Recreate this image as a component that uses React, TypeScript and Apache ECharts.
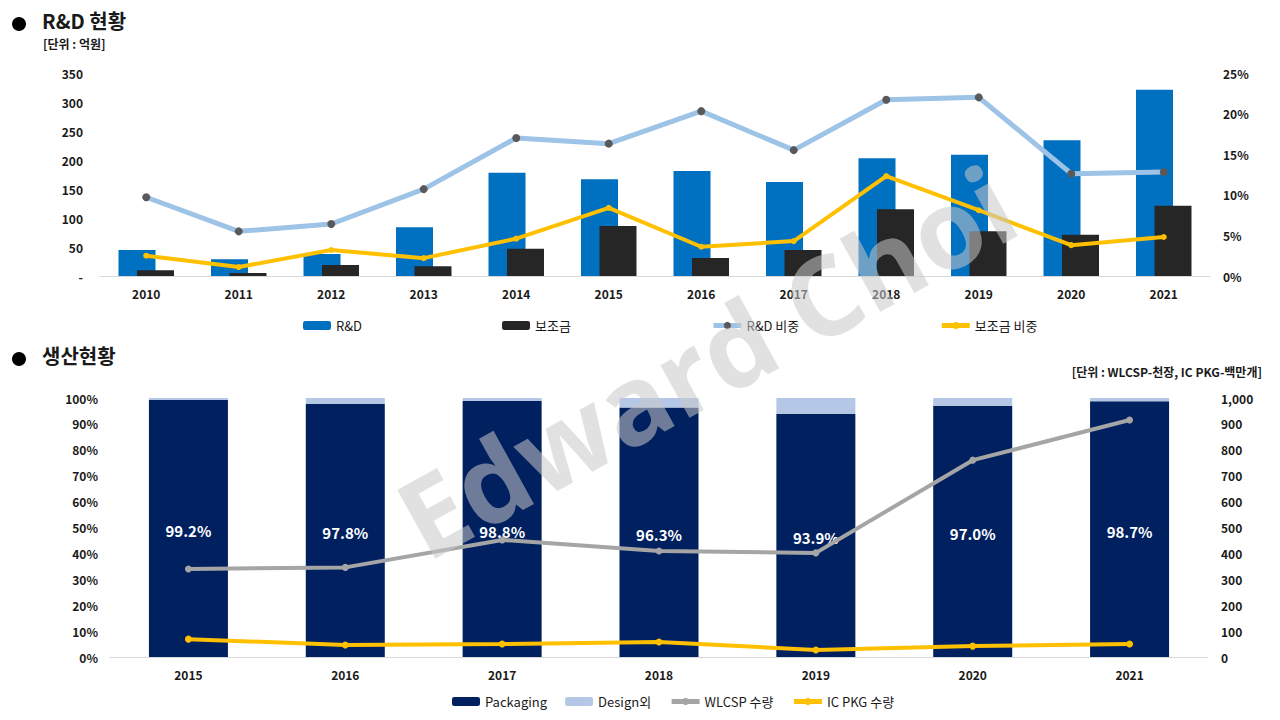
import React, { useEffect, useRef } from "react";
import * as echarts from "echarts";

const years1 = ["2010", "2011", "2012", "2013", "2014", "2015", "2016", "2017", "2018", "2019", "2020", "2021"];
const rnd = [45, 29, 38, 84, 178, 167, 181, 162, 203, 209, 234, 321];
const subsidy = [10, 5, 19, 17, 47, 86, 31, 45, 115, 77, 71, 121];
const rndRatio = [9.7, 5.5, 6.4, 10.7, 17.0, 16.3, 20.3, 15.5, 21.7, 22.0, 12.6, 12.8];
const subsidyRatio = [2.5, 1.1, 3.2, 2.2, 4.6, 8.4, 3.6, 4.3, 12.3, 8.1, 3.8, 4.8];

const years2 = ["2015", "2016", "2017", "2018", "2019", "2020", "2021"];
const packaging = [99.2, 97.8, 98.8, 96.3, 93.9, 97.0, 98.7];
const designEtc = [0.8, 2.2, 1.2, 3.7, 6.1, 3.0, 1.3];
const wlcsp = [340, 346, 452, 409, 402, 760, 915];
const icPkg = [69, 46, 50, 58, 27, 42, 50];

const FONT = "'Noto Sans CJK KR', 'Noto Sans', sans-serif";

export default function App() {
  const ref = useRef<HTMLDivElement>(null);
  useEffect(() => {
    if (!ref.current) return;
    const chart = echarts.init(ref.current, null, { renderer: "svg" });
    const axisLabel = { color: "#1a1a1a", fontSize: 12, fontWeight: "bold" as const, fontFamily: FONT };
    const legendText = { fontSize: 13, color: "#1a1a1a", fontFamily: FONT, fontWeight: "normal" as const };
    const option: any = {
      animation: false,
      backgroundColor: "#ffffff",
      textStyle: { fontFamily: FONT },
      grid: [
        { left: 100, right: 70, top: 73, height: 203 },
        { left: 110, right: 72, top: 398, height: 259 },
      ],
      legend: [
        {
          left: 298,
          top: 314,
          itemGap: 140,
          itemWidth: 28,
          itemHeight: 9,
          lineStyle: { width: 5 },
          textStyle: legendText,
          data: ["R&D", "보조금", "R&D 비중", "보조금 비중"],
        },
        {
          left: 447,
          top: 690,
          itemGap: 18,
          itemWidth: 28,
          itemHeight: 9,
          lineStyle: { width: 5 },
          textStyle: legendText,
          data: ["Packaging", "Design외", "WLCSP 수량", "IC PKG 수량"],
        },
      ],
      xAxis: [
        {
          type: "category",
          gridIndex: 0,
          data: years1,
          axisLine: { lineStyle: { color: "#D9D9D9", width: 1 } },
          axisTick: { show: false },
          axisLabel: { ...axisLabel, margin: 11 },
        },
        {
          type: "category",
          gridIndex: 1,
          data: years2,
          axisLine: { lineStyle: { color: "#D9D9D9", width: 1 } },
          axisTick: { show: false },
          axisLabel: { ...axisLabel, margin: 11 },
        },
      ],
      yAxis: [
        {
          type: "value",
          gridIndex: 0,
          min: 0,
          max: 350,
          interval: 50,
          splitLine: { show: false },
          axisLine: { show: false },
          axisLabel: { ...axisLabel, margin: 17, formatter: (v: number) => (v === 0 ? "-" : String(v)) },
        },
        {
          type: "value",
          gridIndex: 0,
          position: "right",
          min: 0,
          max: 25,
          interval: 5,
          splitLine: { show: false },
          axisLine: { show: false },
          axisLabel: { ...axisLabel, margin: 13, formatter: "{value}%" },
        },
        {
          type: "value",
          gridIndex: 1,
          min: 0,
          max: 100,
          interval: 10,
          splitLine: { show: false },
          axisLine: { show: false },
          axisLabel: { ...axisLabel, margin: 12, formatter: "{value}%" },
        },
        {
          type: "value",
          gridIndex: 1,
          position: "right",
          min: 0,
          max: 1000,
          interval: 100,
          splitLine: { show: false },
          axisLine: { show: false },
          axisLabel: {
            ...axisLabel,
            margin: 13,
            formatter: (v: number) => v.toLocaleString("en-US"),
          },
        },
      ],
      series: [
        {
          name: "R&D",
          type: "bar",
          xAxisIndex: 0,
          yAxisIndex: 0,
          data: rnd,
          barWidth: 37,
          barGap: "-50%",
          itemStyle: { color: "#0070C0" },
        },
        {
          name: "보조금",
          type: "bar",
          xAxisIndex: 0,
          yAxisIndex: 0,
          data: subsidy,
          barWidth: 37,
          barGap: "-50%",
          itemStyle: { color: "#262626" },
        },
        {
          name: "R&D 비중",
          type: "line",
          xAxisIndex: 0,
          yAxisIndex: 1,
          data: rndRatio,
          symbol: "circle",
          symbolSize: 8,
          lineStyle: { color: "#9DC3E6", width: 5 },
          itemStyle: { color: "#595959" },
          z: 3,
        },
        {
          name: "보조금 비중",
          type: "line",
          xAxisIndex: 0,
          yAxisIndex: 1,
          data: subsidyRatio,
          symbol: "circle",
          symbolSize: 6,
          lineStyle: { color: "#FFC000", width: 4 },
          itemStyle: { color: "#FFC000" },
          z: 3,
        },
        {
          name: "Packaging",
          type: "bar",
          xAxisIndex: 1,
          yAxisIndex: 2,
          stack: "share",
          data: packaging,
          barWidth: 79,
          itemStyle: { color: "#002060" },
          label: {
            show: true,
            position: "inside",
            offset: [0, 2],
            color: "#ffffff",
            fontSize: 15,
            fontWeight: "bold",
            fontFamily: FONT,
            formatter: (p: any) => p.value.toFixed(1) + "%",
          },
        },
        {
          name: "Design외",
          type: "bar",
          xAxisIndex: 1,
          yAxisIndex: 2,
          stack: "share",
          data: designEtc,
          barWidth: 79,
          itemStyle: { color: "#B4C7E7" },
        },
        {
          name: "WLCSP 수량",
          type: "line",
          xAxisIndex: 1,
          yAxisIndex: 3,
          data: wlcsp,
          symbol: "circle",
          symbolSize: 7,
          lineStyle: { color: "#A5A5A5", width: 4 },
          itemStyle: { color: "#A5A5A5" },
          z: 3,
        },
        {
          name: "IC PKG 수량",
          type: "line",
          xAxisIndex: 1,
          yAxisIndex: 3,
          data: icPkg,
          symbol: "circle",
          symbolSize: 7,
          lineStyle: { color: "#FFC000", width: 4 },
          itemStyle: { color: "#FFC000" },
          z: 3,
        },
      ],
      graphic: [
        { type: "circle", shape: { cx: 19, cy: 24, r: 7 }, style: { fill: "#000" } },
        {
          type: "text",
          x: 42,
          y: 10,
          style: { text: "R&D 현황", fontSize: 20, fontWeight: "bold", fontFamily: FONT, fill: "#1a1a1a" },
        },
        {
          type: "text",
          x: 43,
          y: 37,
          style: { text: "[단위 : 억원]", fontSize: 12, fontWeight: "bold", fontFamily: FONT, fill: "#1a1a1a" },
        },
        { type: "circle", shape: { cx: 19, cy: 359, r: 7 }, style: { fill: "#000" } },
        {
          type: "text",
          x: 42,
          y: 345,
          style: { text: "생산현황", fontSize: 20, fontWeight: "bold", fontFamily: FONT, fill: "#1a1a1a" },
        },
        {
          type: "text",
          x: 1262,
          y: 365,
          style: {
            text: "[단위 : WLCSP-천장, IC PKG-백만개]",
            fontSize: 12,
            fontWeight: "bold",
            fontFamily: FONT,
            fill: "#1a1a1a",
            align: "right",
          },
        },
        {
          type: "text",
          x: 705,
          y: 360,
          rotation: (29 * Math.PI) / 180,
          z: 100,
          silent: true,
          style: {
            text: "Edward Choi",
            fontSize: 110,
            fontWeight: "bold",
            fontFamily: "'Open Sans', 'Noto Sans', sans-serif",
            fill: "rgba(200,200,200,0.55)",
            align: "center",
            verticalAlign: "middle",
          },
        },
      ],
    };
    chart.setOption(option);
    return () => chart.dispose();
  }, []);
  return (
    <div
      ref={ref}
      style={{ position: "fixed", left: 0, top: 0, width: 1280, height: 720, background: "#fff" }}
    />
  );
}
